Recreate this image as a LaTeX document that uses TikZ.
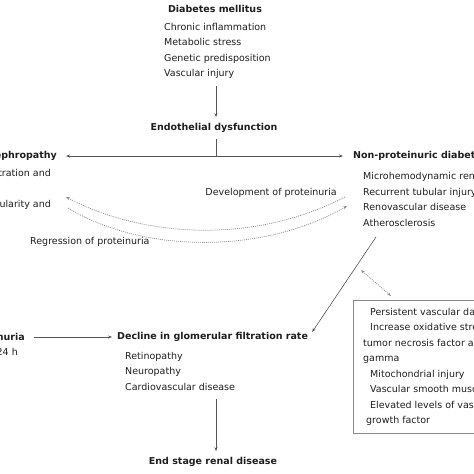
\documentclass[tikz,border=0pt]{standalone}
\usepackage{fontspec}
\setmainfont{DejaVu Sans}
\usetikzlibrary{arrows.meta}
\definecolor{txt}{HTML}{1E1E1E}
\definecolor{ln}{HTML}{555555}
\definecolor{dl}{HTML}{8A8A8A}
\tikzset{
  every node/.style={inner sep=0pt, text=txt, font=\fontsize{9.5}{15.5}\selectfont},
  head/.style={font=\fontsize{9.5}{15.5}\selectfont\bfseries},
  lst/.style={align=left},
  arr/.style={draw=ln, line width=0.6pt, -{Stealth[length=4pt,width=3pt]}},
  plain/.style={draw=ln, line width=0.6pt},
  dotarr/.style={draw=dl, line width=0.7pt, dash pattern=on 1pt off 1pt, -{Stealth[length=4pt,width=3pt]}},
  dotdbl/.style={draw=dl, line width=0.7pt, dash pattern=on 1pt off 1pt, {Stealth[length=4pt,width=3pt]}-{Stealth[length=4pt,width=3pt]}},
  boxst/.style={draw=dl, line width=0.7pt}
}
\begin{document}
\begin{tikzpicture}[x=1pt,y=-1pt]
\useasboundingbox (0,0) rectangle (474,474);
\clip (0,0) rectangle (474,474);
% top
\node[head] (dm) at (215,9) {Diabetes mellitus};
\node[lst, anchor=north west] (dmlist) at (164,23) {Chronic inflammation\\Metabolic stress\\Genetic predisposition\\Vascular injury};
\node[head] (ed) at (214,128) {Endothelial dysfunction};
\coordinate (split) at (216,156);
\node[head, anchor=east] (pdn) at (57,156) {Proteinuric diabetic nephropathy};
\node[head, anchor=west] (npdn) at (353,156) {Non-proteinuric diabetic nephropathy};
\node[anchor=east] (pl1) at (51,174) {Glomerular hyperfiltration and};
\node[anchor=east] (pl2) at (51,205) {Increased glomerular vascularity and};
\node[lst, anchor=north west] (nplist) at (363,172.5) {Microhemodynamic renal changes\\Recurrent tubular injury\\Renovascular disease\\Atherosclerosis};
\node[anchor=east] (dev) at (337,193) {Development of proteinuria};
\node[anchor=west] (reg) at (30,242) {Regression of proteinuria};
% connectors top
\draw[arr] ([yshift=-7pt]dmlist.south -| split) -- ([yshift=6pt]ed.north -| split);
\draw[plain] ([yshift=-6pt]ed.south -| split) -- (split);
\draw[arr] (split) -- ([xshift=9pt]pdn.east);
\draw[arr] (split) -- ([xshift=-10pt]npdn.west);
% dotted curves
\coordinate (u1) at (345,197);
\coordinate (u2) at (66,197);
\coordinate (d1) at (68,208);
\coordinate (d2) at (347,206);
\draw[dotarr] (u1) .. controls (250,246) and (140,236) .. (u2);
\draw[dotarr] (d1) .. controls (140,252) and (260,256) .. (d2);
% box
\draw[boxst] (353,300) rectangle (520,433);
\node[lst, anchor=north west] (boxtxt) at (363,308) {\hspace*{7pt}Persistent vascular damage\\\hspace*{7pt}Increase oxidative stress,\\tumor necrosis factor alpha and interferon\\gamma\\\hspace*{7pt}Mitochondrial injury\\\hspace*{7pt}Vascular smooth muscle proliferation\\\hspace*{7pt}Elevated levels of vascular endothelial\\\hspace*{3pt}growth factor};
% lower
\node[head, anchor=east] (mau) at (25,337) {Microalbuminuria};
\node[anchor=east] (maul) at (18,353) {30-300 mg/24 h};
\node[head, anchor=west] (dgfr) at (117,337) {Decline in glomerular filtration rate};
\node[lst, anchor=north west] (dlist) at (125,352) {Retinopathy\\Neuropathy\\Cardiovascular disease};
\node[head] (esrd) at (213,462) {End stage renal disease};
\coordinate (diag) at (376,237);
\coordinate (dd1) at (361,270);
\coordinate (dd2) at (391,296);
\draw[arr] (diag) -- ([xshift=4pt,yshift=5pt]dgfr.east);
\draw[dotdbl] (dd1) -- (dd2);
\draw[arr] ([xshift=9pt]mau.east) -- ([xshift=-5pt]dgfr.west);
\draw[arr] ([yshift=-8pt]dlist.south -| split) -- ([yshift=6pt]esrd.north -| split);
\end{tikzpicture}
\end{document}
